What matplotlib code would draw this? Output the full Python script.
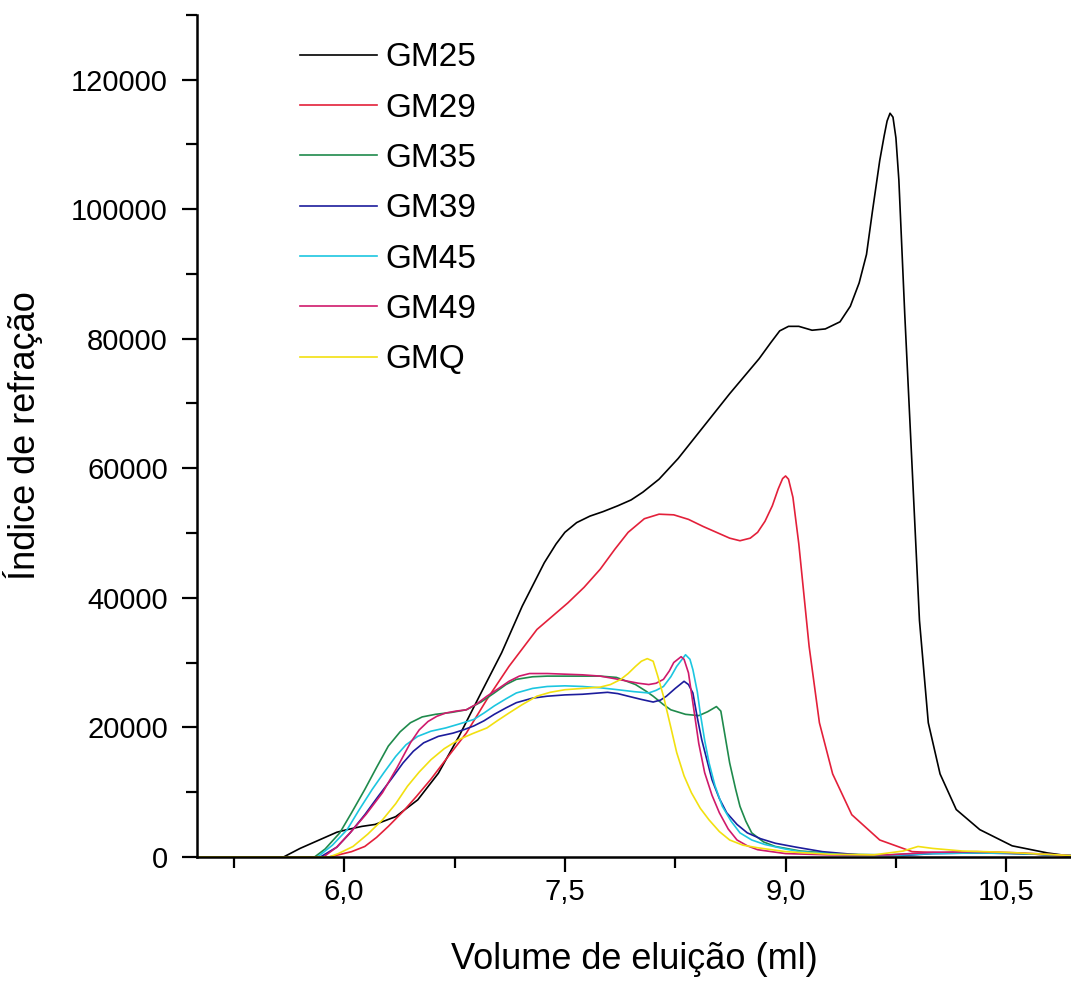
import matplotlib
matplotlib.use('Agg')
import matplotlib.pyplot as plt
from matplotlib.ticker import MultipleLocator, FuncFormatter

plt.rcParams['font.family'] = ['Liberation Sans Narrow', 'Liberation Sans', 'DejaVu Sans']

# elution volume (ml) / refraction index
vol_gm25 = [5.0, 5.59, 5.70, 5.83, 5.95, 6.02, 6.12, 6.21, 6.35, 6.50, 6.64, 6.78, 6.93, 7.07, 7.21,
            7.36, 7.44, 7.50, 7.58, 7.67, 7.76, 7.86, 7.95, 8.03, 8.14, 8.27, 8.41, 8.62, 8.82, 8.90,
            8.96, 9.02, 9.09, 9.18, 9.27, 9.37, 9.44, 9.50, 9.55, 9.59, 9.64, 9.67, 9.69, 9.71, 9.73,
            9.75, 9.77, 9.81, 9.86, 9.91, 9.97, 10.05, 10.16, 10.32, 10.54, 10.78, 10.94]
ri_gm25 = [0, 0, 1300, 2600, 3800, 4200, 4700, 5000, 6200, 8800, 12900, 18600, 25300, 31500, 38700,
           45400, 48300, 50100, 51600, 52600, 53300, 54200, 55100, 56300, 58300, 61500, 65500, 71500,
           76900, 79400, 81200, 81900, 81900, 81300, 81500, 82600, 85000, 88600, 93000, 99600, 107500,
           111300, 113600, 114800, 114200, 111000, 104500, 83800, 60200, 36500, 20700, 12800, 7300,
           4200, 1700, 600, 100]

vol_gm29 = [5.0, 5.90, 5.96, 6.05, 6.14, 6.22, 6.30, 6.40, 6.49, 6.59, 6.69, 6.83, 6.97, 7.12, 7.31,
            7.52, 7.63, 7.74, 7.84, 7.93, 8.04, 8.14, 8.24, 8.34, 8.44, 8.53, 8.62, 8.69, 8.76, 8.81,
            8.86, 8.91, 8.95, 8.98, 9.0, 9.02, 9.05, 9.09, 9.16, 9.23, 9.32, 9.45, 9.64, 9.86, 10.1,
            10.4, 10.7, 10.94]
ri_gm29 = [0, 0, 300, 800, 1600, 3000, 4700, 7000, 9300, 12000, 15000, 19100, 24300, 29400, 35100,
           39200, 41600, 44400, 47500, 50100, 52200, 52900, 52800, 52100, 51000, 50100, 49200, 48800,
           49200, 50100, 51800, 54200, 56800, 58400, 58800, 58300, 55500, 48300, 32500, 20700, 12800,
           6500, 2600, 800, 600, 700, 400, 100]

vol_gm35 = [5.0, 5.80, 5.87, 5.97, 6.05, 6.14, 6.22, 6.30, 6.38, 6.45, 6.53, 6.62, 6.73, 6.83, 6.93,
            7.02, 7.10, 7.17, 7.28, 7.38, 7.55, 7.74, 7.85, 7.98, 8.05, 8.10, 8.17, 8.22, 8.32, 8.41,
            8.47, 8.53, 8.56, 8.59, 8.62, 8.66, 8.69, 8.73, 8.77, 8.85, 8.93, 9.1, 9.4, 9.7, 10.0,
            10.3, 10.6, 10.94]
ri_gm35 = [0, 0, 1200, 3700, 6800, 10400, 13800, 17100, 19300, 20700, 21600, 22000, 22300, 22700,
           23900, 25300, 26600, 27400, 27800, 27900, 27900, 27900, 27700, 26600, 25600, 24800, 23500,
           22700, 22000, 21800, 22400, 23200, 22500, 18500, 14500, 10500, 7800, 5500, 3700, 2300,
           1600, 900, 400, 300, 600, 700, 500, 200]

vol_gm39 = [5.0, 5.84, 5.95, 6.04, 6.14, 6.23, 6.32, 6.40, 6.47, 6.54, 6.64, 6.74, 6.81, 6.88, 6.95,
            7.02, 7.10, 7.17, 7.28, 7.38, 7.50, 7.62, 7.79, 7.86, 7.93, 8.02, 8.10, 8.15, 8.19, 8.25,
            8.31, 8.34, 8.37, 8.40, 8.43, 8.50, 8.55, 8.60, 8.67, 8.74, 8.83, 8.93, 9.07, 9.25, 9.5,
            9.8, 10.0, 10.3, 10.6, 10.94]
ri_gm39 = [0, 0, 1500, 3700, 6500, 9300, 12000, 14500, 16300, 17600, 18600, 19100, 19600, 20200,
           21000, 22000, 23000, 23800, 24500, 24800, 25000, 25100, 25400, 25200, 24800, 24300, 23900,
           24200, 24800, 26000, 27100, 26600, 25300, 21500, 18100, 11900, 9000, 6800, 5000, 3700,
           2800, 2100, 1500, 800, 300, 200, 500, 600, 500, 200]

vol_gm45 = [5.0, 5.82, 5.92, 6.02, 6.10, 6.19, 6.27, 6.35, 6.42, 6.50, 6.59, 6.69, 6.78, 6.88, 6.95,
            7.02, 7.10, 7.17, 7.28, 7.38, 7.50, 7.62, 7.74, 7.86, 7.97, 8.07, 8.12, 8.17, 8.22, 8.26,
            8.32, 8.35, 8.37, 8.40, 8.42, 8.45, 8.48, 8.52, 8.57, 8.63, 8.69, 8.77, 8.86, 9.0, 9.1,
            9.4, 9.7, 10.0, 10.3, 10.6, 10.94]
ri_gm45 = [0, 0, 1800, 4200, 7200, 10400, 13000, 15500, 17300, 18600, 19400, 19900, 20500, 21200,
           22200, 23300, 24400, 25300, 26000, 26300, 26400, 26300, 26100, 25800, 25500, 25300, 25700,
           26300, 27800, 29400, 31200, 30500, 28900, 25500, 22200, 18000, 14500, 11000, 7800, 5500,
           3700, 2600, 1900, 1200, 800, 300, 200, 500, 600, 500, 200]

vol_gm49 = [5.0, 5.86, 5.95, 6.04, 6.15, 6.26, 6.36, 6.45, 6.51, 6.57, 6.63, 6.69, 6.76, 6.83, 6.90,
            6.97, 7.05, 7.12, 7.19, 7.26, 7.38, 7.50, 7.62, 7.74, 7.84, 7.93, 8.00, 8.07, 8.12, 8.17,
            8.21, 8.24, 8.29, 8.31, 8.34, 8.38, 8.41, 8.45, 8.50, 8.55, 8.61, 8.67, 8.74, 8.81, 9.0,
            9.3, 9.7, 10.0, 10.3, 10.6, 10.94]
ri_gm49 = [0, 0, 1500, 3700, 6600, 9900, 13800, 17600, 19600, 20900, 21700, 22200, 22500, 22700,
           23600, 24800, 26000, 27100, 27900, 28300, 28300, 28200, 28100, 27900, 27500, 27100, 26800,
           26600, 26800, 27400, 28700, 30000, 30900, 30500, 28400, 22200, 17500, 13000, 9500, 6800,
           4300, 2600, 1700, 1100, 500, 300, 300, 700, 800, 600, 200]

vol_gmq = [5.0, 5.90, 5.96, 6.06, 6.16, 6.26, 6.35, 6.43, 6.51, 6.59, 6.68, 6.78, 6.87, 6.97, 7.04,
           7.12, 7.21, 7.31, 7.40, 7.50, 7.62, 7.74, 7.81, 7.88, 7.93, 7.98, 8.02, 8.06, 8.10, 8.13,
           8.17, 8.22, 8.26, 8.31, 8.36, 8.42, 8.48, 8.55, 8.62, 8.71, 8.81, 9.0, 9.3, 9.6, 9.8, 9.9,
           10.0, 10.2, 10.5, 10.94]
ri_gmq = [0, 0, 500, 1600, 3500, 5700, 8200, 10900, 13100, 15000, 16700, 18100, 19000, 19900, 21000,
          22200, 23500, 24800, 25400, 25800, 26000, 26200, 26600, 27400, 28300, 29400, 30200, 30600,
          30200, 28000, 24800, 20000, 16100, 12500, 9900, 7500, 5700, 3900, 2600, 1800, 1400, 800,
          400, 300, 900, 1600, 1300, 900, 700, 200]

series = [
    ('GM25', vol_gm25, ri_gm25, 'black'),
    ('GM29', vol_gm29, ri_gm29, '#e3203a'),
    ('GM35', vol_gm35, ri_gm35, '#1f8a4c'),
    ('GM39', vol_gm39, ri_gm39, '#1c1c9c'),
    ('GM45', vol_gm45, ri_gm45, '#1cc6e0'),
    ('GM49', vol_gm49, ri_gm49, '#cf1a6c'),
    ('GMQ', vol_gmq, ri_gmq, '#f2e010'),
]

fig = plt.figure(figsize=(10.71, 9.86), dpi=100)
ax = fig.add_axes([0.184, 0.131, 0.816, 0.854])

for name, v, r, c in series:
    ax.plot(v, r, color=c, lw=1.2, label=name)

ax.set_xlim(5.0, 10.94)
ax.set_ylim(0, 130000)
ax.xaxis.set_major_locator(MultipleLocator(1.5))
ax.xaxis.set_minor_locator(MultipleLocator(0.75))
ax.yaxis.set_major_locator(MultipleLocator(20000))
ax.yaxis.set_minor_locator(MultipleLocator(10000))
ax.xaxis.set_major_formatter(FuncFormatter(lambda x, p: ('%.1f' % x).replace('.', ',')))
ax.yaxis.set_major_formatter(FuncFormatter(lambda y, p: '%d' % y))

ax.spines['top'].set_visible(False)
ax.spines['right'].set_visible(False)
ax.spines['left'].set_linewidth(1.8)
ax.spines['bottom'].set_linewidth(1.8)
ax.tick_params(which='major', direction='out', length=11, width=1.6, labelsize=21)
ax.tick_params(which='minor', direction='out', length=8, width=1.6)
ax.tick_params(axis='x', pad=4)
ax.tick_params(axis='y', pad=10)

ax.set_xlabel('Volume de eluição (ml)', fontsize=26, labelpad=26)
ax.set_ylabel('Índice de refração', fontsize=26, labelpad=20)

leg = ax.legend(loc='upper left', bbox_to_anchor=(0.103, 0.983), frameon=False, fontsize=24,
                handlelength=2.3, handletextpad=0.25, labelspacing=0.58, borderaxespad=0)
for line in leg.get_lines():
    line.set_linewidth(1.2)

plt.savefig('out.png', dpi=100)
